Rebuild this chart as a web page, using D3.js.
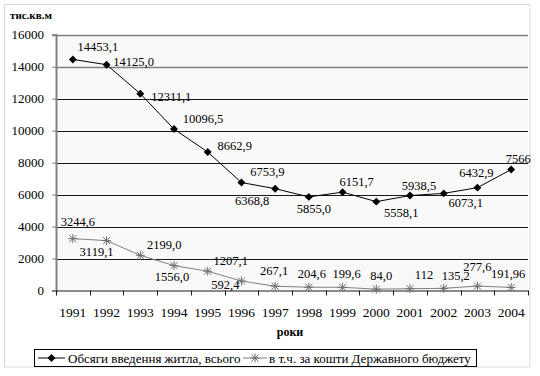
<!DOCTYPE html>
<html>
<head>
<meta charset="utf-8">
<script src="https://cdn.jsdelivr.net/npm/d3@7"></script>
<style>
  html, body { margin: 0; padding: 0; background: #fff; }
  svg { display: block; }
</style>
</head>
<body>
<svg id="chart" width="540" height="376"></svg>
<script>
// ---- data ----
const years = ["1991","1992","1993","1994","1995","1996","1997","1998","1999","2000","2001","2002","2003","2004"];
const totalValues = [14453.1, 14125.0, 12311.1, 10096.5, 8662.9, 6753.9, 6368.8, 5855.0, 6151.7, 5558.1, 5938.5, 6073.1, 6432.9, 7566];
const totalLabels = ["14453,1","14125,0","12311,1","10096,5","8662,9","6753,9","6368,8","5855,0","6151,7","5558,1","5938,5","6073,1","6432,9","7566"];
const budgetValues = [3244.6, 3119.1, 2199.0, 1556.0, 1207.1, 592.4, 267.1, 204.6, 199.6, 84.0, 112, 135.2, 277.6, 191.96];
const budgetLabels = ["3244,6","3119,1","2199,0","1556,0","1207,1","592,4","267,1","204,6","199,6","84,0","112","135,2","277,6","191,96"];
const yTicks = [0, 2000, 4000, 6000, 8000, 10000, 12000, 14000, 16000];
const seriesNames = ["Обсяги введення житла, всього", "в т.ч. за кошти Державного бюджету"];
const yUnit = "тис.кв.м";
const xTitle = "роки";

// ---- layout (label offsets relative to point, px) ----
const totalLabelOffsets = [[25,-12],[27,-3],[31,3],[29,-10],[27,-6],[26,-11],[-23,12],[5,12],[14,-10],[25,11],[9,-10],[22,10],[-1,-15],[7,-11]];
const budgetLabelOffsets = [[5,-17],[-10,11],[24,-10],[-2,11],[23,-10],[-16,4],[-1,-15],[3,-13],[4,-13],[5,-13],[14,-14],[12,-12],[0,-19],[-3,-13]];

const FONT = "'Liberation Serif'";
const svg = d3.select("#chart");
const L = 56, R = 528, T = 34.7, B = 290.5;

// outer border
svg.append("rect").attr("x", 4.5).attr("y", 4.5).attr("width", 525.5).attr("height", 362.5)
  .attr("fill", "#fff").attr("stroke", "#d9d9d9").attr("stroke-width", 1);

const x = d3.scaleBand().domain(years).range([L, R]).paddingInner(0).paddingOuter(0);
const y = d3.scaleLinear().domain([0, 16000]).range([B, T]);

// plot background
svg.append("rect").attr("x", L).attr("y", T).attr("width", R - L).attr("height", B - T).attr("fill", "#f9f9f9");

// gridlines
svg.append("g").selectAll("line").data(yTicks.filter(d => d > 0)).join("line")
  .attr("x1", L).attr("x2", R)
  .attr("y1", d => Math.round(y(d)) + 0.5).attr("y2", d => Math.round(y(d)) + 0.5)
  .attr("stroke", d => d >= 14000 ? "#808080" : "#1a1a1a")
  .attr("stroke-width", d => d >= 14000 ? 1.5 : 1);

// y axis
const yAxis = d3.axisLeft(y).tickValues(yTicks).tickSize(4).tickPadding(8).tickFormat(d3.format("d"));
const gy = svg.append("g").attr("transform", `translate(${L},0)`).call(yAxis);
gy.select(".domain").attr("stroke", "#808080").attr("stroke-width", 2);
gy.selectAll(".tick line").attr("stroke", "#808080");
gy.selectAll(".tick text").style("font-size", "13px").style("font-family", FONT).attr("fill", "#000");

// x axis
const xAxis = d3.axisBottom(x).tickSize(0).tickPadding(17);
const gx = svg.append("g").attr("transform", `translate(0,${B})`).call(xAxis);
gx.select(".domain").attr("stroke", "#1a1a1a").attr("stroke-width", 1.2);
gx.selectAll(".tick text").style("font-size", "13.5px").style("font-family", FONT).attr("fill", "#000");
// tick marks at band boundaries
const bounds = years.map(d => x(d)).concat([x(years[years.length - 1]) + x.bandwidth()]);
svg.append("g").selectAll("line").data(bounds).join("line")
  .attr("x1", d => Math.round(d) + 0.5).attr("x2", d => Math.round(d) + 0.5)
  .attr("y1", B).attr("y2", B + 5).attr("stroke", "#1a1a1a").attr("stroke-width", 1);

const cx = d => x(d) + x.bandwidth() / 2;

// budget series
const lineB = d3.line().x((d, i) => cx(years[i])).y(d => y(d));
svg.append("path").datum(budgetValues).attr("d", lineB)
  .attr("fill", "none").attr("stroke", "#808080").attr("stroke-width", 1);

function star(g, s) {
  g.append("path").attr("d", `M${-s},${-s}L${s},${s}M${-s},${s}L${s},${-s}M0,${-s - 1}L0,${s + 1}M${-s - 1},0L${s + 1},0`)
    .attr("stroke", "#6e6e6e").attr("stroke-width", 1).attr("fill", "none");
}
svg.append("g").selectAll("g").data(budgetValues).join("g")
  .attr("transform", (d, i) => `translate(${cx(years[i])},${y(d)})`)
  .each(function () { star(d3.select(this), 3.5); });

// total series
const lineT = d3.line().x((d, i) => cx(years[i])).y(d => y(d));
svg.append("path").datum(totalValues).attr("d", lineT)
  .attr("fill", "none").attr("stroke", "#000").attr("stroke-width", 1);
const diamond = d3.symbol().type(d3.symbolDiamond2).size(40);
svg.append("g").selectAll("path").data(totalValues).join("path")
  .attr("d", diamond)
  .attr("transform", (d, i) => `translate(${cx(years[i])},${y(d)})`)
  .attr("fill", "#000");

// labels
svg.append("g").selectAll("text").data(totalValues).join("text")
  .attr("x", (d, i) => cx(years[i]) + totalLabelOffsets[i][0])
  .attr("y", (d, i) => y(d) + totalLabelOffsets[i][1])
  .attr("text-anchor", "middle").attr("dominant-baseline", "central")
  .style("font-size", "12.5px").style("font-family", FONT)
  .text((d, i) => totalLabels[i]);
svg.append("g").selectAll("text").data(budgetValues).join("text")
  .attr("x", (d, i) => cx(years[i]) + budgetLabelOffsets[i][0])
  .attr("y", (d, i) => y(d) + budgetLabelOffsets[i][1])
  .attr("text-anchor", "middle").attr("dominant-baseline", "central")
  .style("font-size", "12.5px").style("font-family", FONT)
  .text((d, i) => budgetLabels[i]);

// unit + axis title
svg.append("text").attr("x", 10).attr("y", 19).style("font-size", "11px").style("font-weight", "bold")
  .style("font-family", FONT).text(yUnit);
svg.append("text").attr("x", 290).attr("y", 336).attr("text-anchor", "middle")
  .style("font-size", "12px").style("font-weight", "bold").style("font-family", FONT).text(xTitle);

// legend
const lg = svg.append("g");
lg.append("rect").attr("x", 34.5).attr("y", 349.5).attr("width", 442).attr("height", 17)
  .attr("fill", "#fff").attr("stroke", "#000").attr("stroke-width", 1);
const ly = 358;
lg.append("line").attr("x1", 38).attr("x2", 65).attr("y1", ly).attr("y2", ly).attr("stroke", "#000");
lg.append("path").attr("d", diamond).attr("transform", `translate(51.5,${ly})`).attr("fill", "#000");
lg.append("text").attr("x", 68).attr("y", ly).attr("dominant-baseline", "central")
  .style("font-size", "13px").style("font-family", FONT).text(seriesNames[0]);
lg.append("line").attr("x1", 243).attr("x2", 267).attr("y1", ly).attr("y2", ly).attr("stroke", "#808080");
const sg = lg.append("g").attr("transform", `translate(255,${ly})`);
star(sg, 3.5);
lg.append("text").attr("x", 269).attr("y", ly).attr("dominant-baseline", "central")
  .style("font-size", "13px").style("font-family", FONT).text(seriesNames[1]);
</script>
</body>
</html>
